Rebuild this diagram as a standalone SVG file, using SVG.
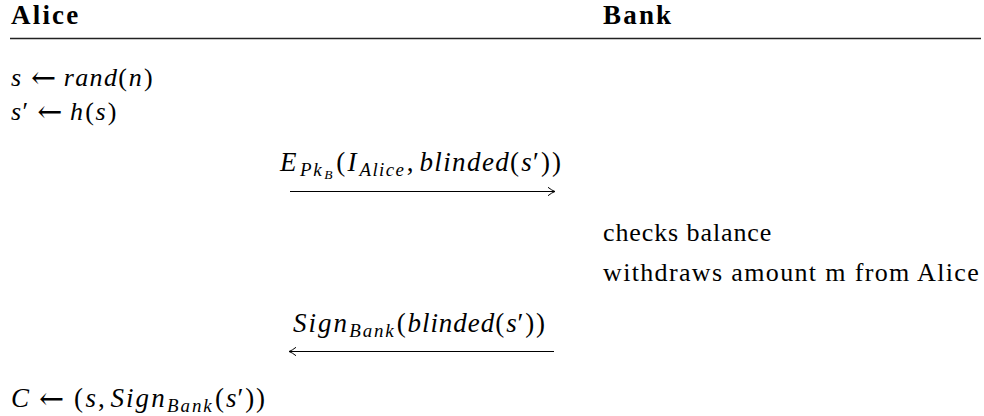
<svg xmlns="http://www.w3.org/2000/svg" width="984" height="416" viewBox="0 0 984 416">
<style>
.h{font-weight:bold;font-size:27px}
.i{font-style:italic}
.ar{font-family:'DejaVu Serif',serif;font-style:normal;font-size:30px}
.sub{font-size:18.9px;font-style:italic}
.ss{font-size:13.5px;font-style:italic}
.rule{stroke:#222;stroke-width:1.3}
.conn{stroke:#000;stroke-width:1;fill:none}
</style>
<defs>
<marker id="hd" markerWidth="12" markerHeight="12" refX="0" refY="0" viewBox="-10 -6 12 12" orient="auto" markerUnits="userSpaceOnUse">
<path d="M -7 -4.2 Q -3 -1 0 0 Q -3 1 -7 4.2" fill="none" stroke="#000" stroke-width="1"/>
</marker>
</defs>
<rect width="984" height="416" fill="#fff"/>
<g id="header-alice"><text class="h" x="11" y="23.5" letter-spacing="2.2" style="font-family:'Liberation Serif',serif;font-size:27px">Alice</text></g>
<g id="header-bank"><text class="h" x="603" y="23.5" letter-spacing="2.2" style="font-family:'Liberation Serif',serif;font-size:27px">Bank</text></g>
<line class="rule" x1="10" y1="38.5" x2="981" y2="38.5"/>
<g id="alice-step1"><text x="11" y="86" style="font-family:'Liberation Serif',serif;font-size:26px"><tspan class="i">s</tspan><tspan class="ar" x="31" y="88">←</tspan><tspan class="i" x="63.7" y="86" letter-spacing="1.4">rand</tspan><tspan x="118.3">(</tspan><tspan class="i" x="128.8">n</tspan><tspan x="144">)</tspan></text></g>
<g id="alice-step2"><text x="11" y="120" style="font-family:'Liberation Serif',serif;font-size:26px"><tspan class="i">s</tspan><tspan x="22.5">′</tspan><tspan class="ar" x="37.2" y="122">←</tspan><tspan class="i" x="70.1" y="120">h</tspan><tspan x="85.2">(</tspan><tspan class="i" x="95.6">s</tspan><tspan x="107.7">)</tspan></text></g>
<g id="bank-check"><text x="603" y="241" letter-spacing="0.9" style="font-family:'Liberation Serif',serif;font-size:26px">checks balance</text></g>
<g id="bank-withdraw"><text x="603" y="281" letter-spacing="1.35" style="font-family:'Liberation Serif',serif;font-size:26px">withdraws amount m from Alice</text></g>
<g id="alice-result"><text x="11" y="407" style="font-family:'Liberation Serif',serif;font-size:27px"><tspan class="i">C</tspan><tspan class="ar" x="39" y="409" font-size="31">←</tspan><tspan x="74.1" y="407">(</tspan><tspan class="i" x="85.4">s</tspan><tspan x="98">,</tspan><tspan class="i" x="110.4" letter-spacing="2.1">Sign</tspan><tspan class="sub" x="166.9" y="412" letter-spacing="2">Bank</tspan><tspan x="214.9" y="407">(</tspan><tspan class="i" x="225.9">s</tspan><tspan x="237.5">′</tspan><tspan x="245.2">)</tspan><tspan x="256">)</tspan></text></g>
<g id="connectors">
<g id="msg1">
<text x="280" y="171" style="font-family:'Liberation Serif',serif;font-size:27px"><tspan class="i">E</tspan><tspan class="sub" x="300" y="175.5" letter-spacing="1.6">Pk</tspan><tspan class="ss" x="324.2" y="178.5">B</tspan><tspan x="336.2" y="171">(</tspan><tspan class="i" x="347.6">I</tspan><tspan class="sub" x="359.5" y="175.5" letter-spacing="1.4">Alice</tspan><tspan x="406.7" y="171">,</tspan><tspan class="i" x="419.4" letter-spacing="1.4">blinded</tspan><tspan x="509.9">(</tspan><tspan class="i" x="521.3">s</tspan><tspan x="533">′</tspan><tspan x="540.9">)</tspan><tspan x="552">)</tspan></text>
<line class="conn" x1="290" y1="191.5" x2="555" y2="191.5" marker-end="url(#hd)"/>
</g>
<g id="msg2">
<text x="293" y="332" style="font-family:'Liberation Serif',serif;font-size:27px"><tspan class="i" letter-spacing="2">Sign</tspan><tspan class="sub" x="349.2" y="337" letter-spacing="1.9">Bank</tspan><tspan x="396.8" y="332">(</tspan><tspan class="i" x="407.5" letter-spacing="0.95">blinded</tspan><tspan x="495.3">(</tspan><tspan class="i" x="506.3">s</tspan><tspan x="517.6">′</tspan><tspan x="525.3">)</tspan><tspan x="536">)</tspan></text>
<line class="conn" x1="554" y1="351.5" x2="289" y2="351.5" marker-end="url(#hd)"/>
</g>
</g>
</svg>
